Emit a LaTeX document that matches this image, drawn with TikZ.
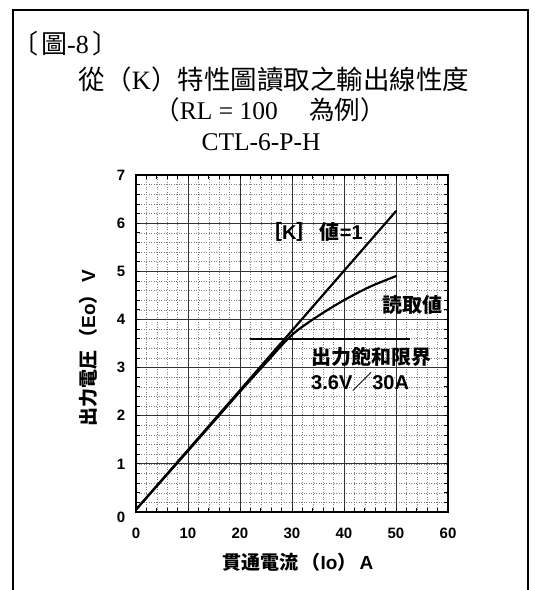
\documentclass[tikz,border=0pt]{standalone}
\usepackage{fontspec}
\setmainfont{Liberation Serif}
\newfontfamily\cjktc{Noto Sans CJK TC}
\newfontfamily\cjkjp{Noto Sans CJK JP}
\newfontfamily\lsans{Liberation Sans}
\newcommand{\tcx}[1]{{\cjktc #1}}
\newcommand{\cjb}[1]{{\cjkjp\bfseries #1}}
\newcommand{\lsb}[1]{{\lsans\bfseries #1}}
\tikzset{
  minorline/.style={black!50, line width=0.5pt, dotted},
  majorline/.style={black!80, line width=0.9pt},
  chartframe/.style={black, line width=1.3pt},
  tickmark/.style={black, line width=0.8pt},
  curve/.style={black, line width=2.2pt, line cap=round},
  ticklab/.style={inner sep=0pt, font=\fontsize{15}{17}\selectfont\lsans\bfseries},
  chartlab/.style={inner sep=0pt, anchor=west, font=\fontsize{20}{24}\selectfont},
  titlelab/.style={inner sep=0pt},
}
\begin{document}
\begin{tikzpicture}[x=1pt,y=-1pt]
\useasboundingbox (0,0) rectangle (541,590);
\draw[line width=2pt] (13,600) -- (13,10) -- (528,10) -- (528,600);

\node[titlelab, anchor=west] (fig) at (12,44) {\fontsize{26}{30}\selectfont\tcx{〔}\hspace{3pt}\tcx{圖}-8\hspace{4pt}\tcx{〕}};
\node[titlelab] (title) at (274,79) {\fontsize{26.5}{30}\selectfont\tcx{從（}K\tcx{）特性圖讀取之輸出線性度}};
\node[titlelab] (rl) at (270,110) {\fontsize{25.5}{30}\selectfont\tcx{（}RL = 100\tcx{\ 　為例）}};
\node[titlelab] (ctl) at (261,142) {\fontsize{25.5}{30}\selectfont CTL-6-P-H};

\begin{scope}[shift={(136pt,-512pt)}, x=5.2pt, y=48.14pt]
  \foreach \i in {1,...,29} \draw[minorline] (2*\i,0) -- (2*\i,7);
  \foreach \j in {1,...,34} \draw[minorline] (0,{\j/5}) -- (60,{\j/5});
  \foreach \i in {10,20,...,50} \draw[majorline] (\i,0) -- (\i,7);
  \foreach \j in {1,...,6} \draw[majorline] (0,\j) -- (60,\j);
  \foreach \i in {1,...,29} {
    \draw[tickmark] (2*\i,0) -- ++(0pt,4pt);
    \draw[tickmark] (2*\i,7) -- ++(0pt,-4pt);
  }
  \foreach \j in {1,...,34} {
    \draw[tickmark] (0,{\j/5}) -- ++(4pt,0pt);
    \draw[tickmark] (60,{\j/5}) -- ++(-4pt,0pt);
  }
  \draw[chartframe] (0,0) rectangle (60,7);
  \foreach \i in {0,10,...,60} \node[ticklab, yshift=-21pt] (xt\i) at (\i,0) {\i};
  \foreach \j in {1,...,7} \node[ticklab, xshift=-15pt] (yt\j) at (0,\j) {\j};
  \node[ticklab, xshift=-15pt, yshift=-5pt] (yt0) at (0,0) {0};
  \coordinate (o) at (0,0.05);
  \coordinate (kend) at (50,6.25);
  \coordinate (sa) at (22,3.6);
  \coordinate (sb) at (52.7,3.6);
  \draw[curve] (o) -- (kend);
  \draw[curve] plot[smooth] coordinates {(0,0.05) (10,1.27) (20,2.5) (25,3.1) (30,3.68) (35,4.07) (40,4.4) (45,4.68) (50,4.9)};
  \draw[black, line width=2pt] (sa) -- (sb);
\end{scope}

\node[chartlab] (klab) at (262,232) {\cjb{［}\lsb{K}\cjb{］}\,\cjb{値}\lsb{=1}};
\node[chartlab] (read) at (382,305) {\cjb{読取値}};
\node[chartlab] (satl) at (311,357) {\cjb{出力飽和限界}};
\node[chartlab] (satv) at (311,382) {\lsb{3.6V}\cjb{／}\lsb{30A}};
\node[inner sep=0pt, rotate=90, font=\fontsize{19}{22}\selectfont] (ylab) at (88,348) {\cjb{出力電圧}\,\cjb{（}\lsb{Eo}\cjb{）}\,\lsb{V}};
\node[inner sep=0pt, font=\fontsize{19}{22}\selectfont] (xlab) at (298,562) {\cjb{貫通電流}\,\cjb{（}\lsb{Io}\cjb{）}\,\lsb{A}};
\end{tikzpicture}
\end{document}
